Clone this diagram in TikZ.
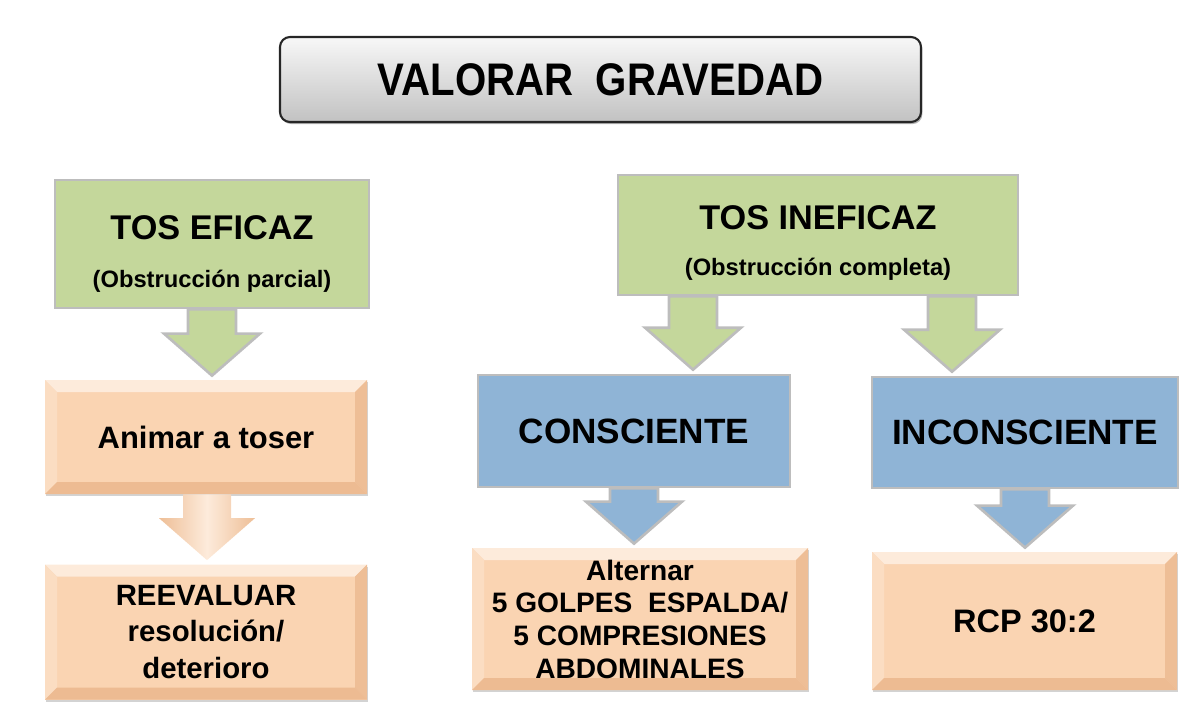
\documentclass[tikz,border=0pt]{standalone}
\usepackage{fontspec}
\setmainfont{Liberation Sans}
\newfontfamily\titlefont[FakeStretch=0.88]{Liberation Sans}
\usetikzlibrary{calc,shadows}

\definecolor{tosgreen}{HTML}{C4D79B}
\definecolor{tosblue}{HTML}{8FB4D6}
\definecolor{edgegray}{HTML}{BDBDBD}
\definecolor{peach}{HTML}{FAD4B2}
\definecolor{peachtop}{HTML}{FDEBDB}
\definecolor{peachleft}{HTML}{FBDDC2}
\definecolor{peachright}{HTML}{EEBE96}
\definecolor{peachbottom}{HTML}{EDBB92}

\newlength{\pxu}
\setlength{\pxu}{0.2mm}
\newlength{\bev}
\setlength{\bev}{12\pxu}

% block arrow from one box down to the next, along a column
\newcommand{\blockarrow}[4]{%
  \path[#1] ($(#2.south -| #4)+(-24,0)$) -- ($(#3.north -| #4)+(-24,-46)$)
    -- ($(#3.north -| #4)+(-48,-46)$) -- ($(#3.north -| #4)+(0,-4)$)
    -- ($(#3.north -| #4)+(48,-46)$) -- ($(#3.north -| #4)+(24,-46)$)
    -- ($(#2.south -| #4)+(24,0)$) -- cycle;
}

\tikzset{
  titlebox/.style={draw=black!85, line width=1.2pt, rounded corners=2mm,
    top color=black!3, bottom color=black!24,
    drop shadow={shadow xshift=0.8pt, shadow yshift=-1.2pt, opacity=.6}},
  greenbox/.style={draw=edgegray, line width=1.5pt, fill=tosgreen},
  bluebox/.style={draw=edgegray, line width=1.5pt, fill=tosblue,
    font=\bfseries\fontsize{20}{24}\selectfont},
  peachbox/.style={fill=peach, align=center,
    drop shadow={shadow xshift=0.6pt, shadow yshift=-1.2pt, opacity=.35},
    path picture={
      \fill[peachtop] (path picture bounding box.north west) -- (path picture bounding box.north east)
        -- ([shift={(-\bev,-\bev)}]path picture bounding box.north east)
        -- ([shift={(\bev,-\bev)}]path picture bounding box.north west) -- cycle;
      \fill[peachleft] (path picture bounding box.north west) -- (path picture bounding box.south west)
        -- ([shift={(\bev,\bev)}]path picture bounding box.south west)
        -- ([shift={(\bev,-\bev)}]path picture bounding box.north west) -- cycle;
      \fill[peachright] (path picture bounding box.north east) -- (path picture bounding box.south east)
        -- ([shift={(-\bev,\bev)}]path picture bounding box.south east)
        -- ([shift={(-\bev,-\bev)}]path picture bounding box.north east) -- cycle;
      \fill[peachbottom] (path picture bounding box.south west) -- (path picture bounding box.south east)
        -- ([shift={(-\bev,\bev)}]path picture bounding box.south east)
        -- ([shift={(\bev,\bev)}]path picture bounding box.south west) -- cycle;
    }},
  headtext/.style={font=\bfseries\fontsize{19.5}{23}\selectfont},
  subtext/.style={font=\bfseries\fontsize{13.5}{16}\selectfont},
  greenarrow/.style={draw=edgegray, line width=1.5pt, fill=tosgreen},
  bluearrow/.style={draw=edgegray, line width=1.5pt, fill=tosblue},
  peacharrow/.style={left color=peachright, right color=peachright, middle color=peachtop}
}

\begin{document}
\begin{tikzpicture}[x=0.2mm, y=-0.2mm]
    % Frame
    \useasboundingbox (0,0) rectangle (1192,714);

    % Title
    \node[titlebox, minimum width=641\pxu, minimum height=85\pxu,
      font=\titlefont\bfseries\fontsize{26}{30}\selectfont] (titulo) at (600.5,79.5) {VALORAR\ \ GRAVEDAD};

    % Cough boxes
    \node[greenbox, minimum width=314\pxu, minimum height=128\pxu] (eficaz) at (212,244) {};
    \node[greenbox, minimum width=400\pxu, minimum height=120\pxu] (ineficaz) at (818,235) {};
    \node[headtext] (eficaztxt) at ($(eficaz.center)+(0,-16)$) {TOS EFICAZ};
    \node[subtext] (eficazsub) at ($(eficaz.center)+(0,37)$) {(Obstrucción parcial)};
    \node[headtext] (ineficaztxt) at ($(ineficaz.center)+(0,-17)$) {TOS INEFICAZ};
    \node[subtext] (ineficazsub) at ($(ineficaz.center)+(0,34)$) {(Obstrucción completa)};

    % Consciousness boxes
    \node[bluebox, minimum width=312\pxu, minimum height=112\pxu] (consc) at (634,431) {CONSCIENTE};
    \node[bluebox, minimum width=306\pxu, minimum height=111\pxu] (incons) at (1025,432.5) {INCONSCIENTE};

    % Actions
    \node[peachbox, minimum width=322\pxu, minimum height=114\pxu,
      font=\bfseries\fontsize{17.6}{21}\selectfont] (animar) at (206,437) {Animar a toser};
    \node[peachbox, minimum width=322\pxu, minimum height=135\pxu,
      font=\bfseries\fontsize{16.7}{21}\selectfont] (reeval) at (206,632) {REEVALUAR\\resolución/\\deterioro};
    \node[peachbox, minimum width=336\pxu, minimum height=142\pxu,
      font=\bfseries\fontsize{16}{18.6}\selectfont] (alternar) at (640,619) {Alternar\\5 GOLPES\ \ ESPALDA/\\5 COMPRESIONES\\ABDOMINALES};
    \node[peachbox, minimum width=305\pxu, minimum height=138\pxu,
      font=\bfseries\fontsize{18.5}{22}\selectfont] (rcp) at (1024.5,621) {RCP 30:2};

    % Arrow columns
    \coordinate (col1) at (212,0);
    \coordinate (col2) at (207,0);
    \coordinate (col3) at (693,0);
    \coordinate (col4) at (952,0);
    \coordinate (col5) at (634,0);
    \coordinate (col6) at (1025,0);

    % Arrows
    \blockarrow{greenarrow}{eficaz}{animar}{col1}
    \blockarrow{peacharrow}{animar}{reeval}{col2}
    \blockarrow{greenarrow}{ineficaz}{consc}{col3}
    \blockarrow{greenarrow}{ineficaz}{incons}{col4}
    \blockarrow{bluearrow}{consc}{alternar}{col5}
    \blockarrow{bluearrow}{incons}{rcp}{col6}
\end{tikzpicture}
\end{document}
